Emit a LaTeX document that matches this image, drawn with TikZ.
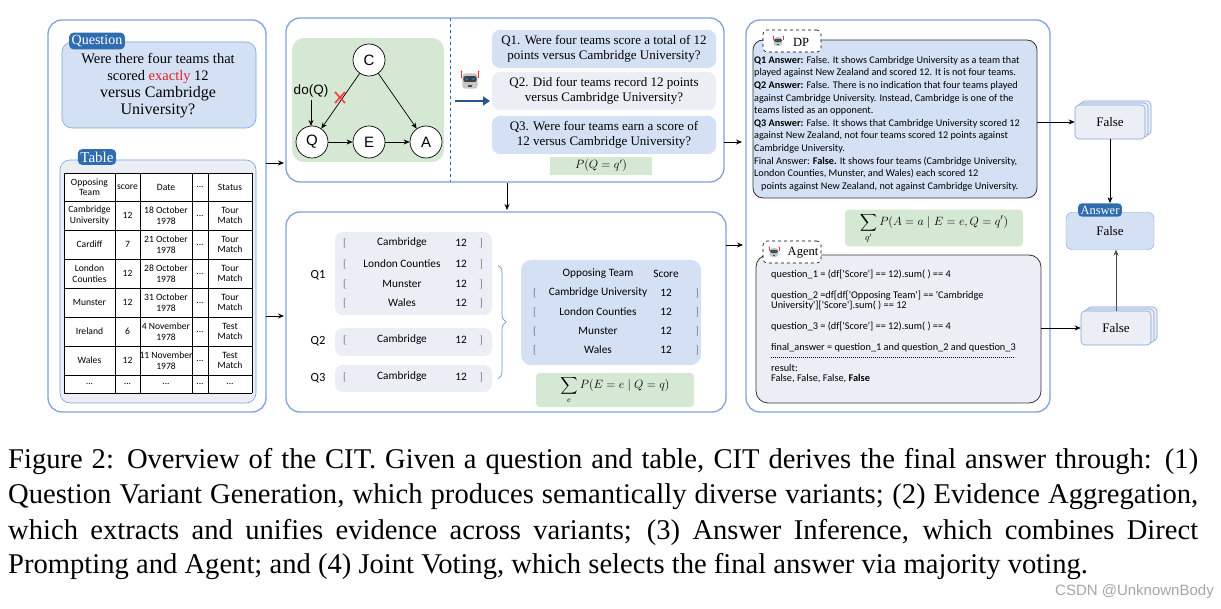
\documentclass[tikz,border=0pt]{standalone}
\usepackage{fontspec}
\usepackage{amsmath}
\setmainfont{Liberation Serif}
\newfontfamily\sans{Liberation Sans}
\newfontfamily\carl{Carlito}
\usetikzlibrary{arrows.meta,decorations.pathreplacing}
\definecolor{pborder}{HTML}{7FA2DB}
\definecolor{qfill}{HTML}{D4E1F4}
\definecolor{tabc}{HTML}{2F6CB0}
\definecolor{gfill}{HTML}{D5E8D4}
\definecolor{lgray}{HTML}{EBEEF4}
\definecolor{exred}{HTML}{E02020}
\tikzset{
 panel/.style={draw=pborder,line width=1.3pt,rounded corners=14pt},
 qbox/.style={draw=pborder,fill=qfill,rounded corners=10pt,line width=0.6pt},
 tab/.style={fill=tabc,rounded corners=4pt,text=white,font=\fontsize{14}{16}\selectfont,inner sep=2.5pt},
 vnode/.style={circle,draw,fill=white,minimum size=32pt,inner sep=0pt,font=\sans\fontsize{15}{16}\selectfont,line width=0.7pt},
 arr/.style={-{Stealth[length=6pt,width=5pt]},line width=0.7pt},
 cell/.style={font=\carl\fontsize{9.6}{10.5}\selectfont,align=center,inner sep=0pt},
 vbox/.style={rounded corners=8pt},
 vtext/.style={font=\fontsize{13}{15.5}\selectfont,align=center},
 ev/.style={font=\carl\fontsize{11.3}{12}\selectfont,inner sep=0pt},
 brk/.style={font=\fontsize{11}{12}\selectfont,text=gray,inner sep=0pt},
 tag/.style={draw,dashed,fill=white,rounded corners=4pt,line width=0.6pt},
 capl/.style={anchor=west,inner sep=0pt,font=\fontsize{28.6}{34}\selectfont},
}
\newcommand{\robot}[2]{%
 \begin{scope}[shift={(#1)},scale=#2]
  \draw[red!80,line width=0.8pt] (-9,-2)--(-9,-9) (9,-2)--(9,-9);
  \fill[red!80] (-9,-9) circle (1) (9,-9) circle (1);
  \fill[gray!45,rounded corners=3] (-8,-7) rectangle (8,9);
  \fill[black!75,rounded corners=2] (-7,-4) rectangle (7,2);
  \fill[cyan!70!blue] (-3.5,-1) circle (1.4) (3.5,-1) circle (1.4);
  \fill[black!70] (-2,5) rectangle (2,7);
 \end{scope}}
\newcommand{\fullline}[1]{\makebox[1190pt][s]{#1}}
\begin{document}
\begin{tikzpicture}[x=1pt,y=-1pt]
\useasboundingbox (0,0) rectangle (1221,609);
\fill[white] (0,0) rectangle (1221,609);
% ---------- left panel
\draw[panel] (48,20) rectangle (266,412);
\draw[qbox] (62,42) rectangle (256,128);
\node[tab] (qtag) at (97,41) {Question};
\node[font=\fontsize{14.5}{17}\selectfont,align=center] (qtext) at (158,86)
 {Were there four teams that\\ scored \textcolor{exred}{exactly} 12\\ {\fontsize{16}{18}\selectfont versus Cambridge}\\ {\fontsize{16}{18}\selectfont University?}};
\draw[draw=pborder,fill=lgray,rounded corners=10pt,line width=0.6pt] (60,160) rectangle (256,403);
\node[tab,font=\fontsize{15}{17}\selectfont] (ttag) at (97,157) {Table};
\fill[white] (64,173) rectangle (252,393);
\foreach \x in {64,115,140,192,208,252} \draw[line width=0.6pt] (\x,173)--(\x,393);
\foreach \y in {173,201,230,259,288,317,346,375,393} \draw[line width=0.6pt] (64,\y)--(252,\y);
\node[cell] (h1) at (89.5,187) {Opposing\\Team};
\node[cell] (h2) at (127.5,187) {score};
\node[cell] (h3) at (166,187) {Date};
\node[cell] (h4) at (200,187) {...};
\node[cell] (h5) at (230,187) {Status};
\foreach \n/\t/\s/\d [count=\i] in {
 {Cambridge\\University}/12/{18 October\\1978}/{Tour\\Match},
 Cardiff/7/{21 October\\1978}/{Tour\\Match},
 {London\\Counties}/12/{28 October\\1978}/{Tour\\Match},
 Munster/12/{31 October\\1978}/{Tour\\Match},
 Ireland/6/{4 November\\1978}/{Test\\Match},
 Wales/12/{11 November\\1978}/{Test\\Match}}{
 \pgfmathsetmacro\yy{215.5+29*(\i-1)}
 \node[cell] (r\i a) at (89.5,\yy) {\n};
 \node[cell] (r\i b) at (127.5,\yy) {\t};
 \node[cell] (r\i c) at (166,\yy) {\s};
 \node[cell] (r\i d) at (200,\yy) {...};
 \node[cell] (r\i e) at (230,\yy) {\d};
}
\foreach \x/\k in {89.5/a,127.5/b,166/c,200/d,230/e} \node[cell] (r7\k) at (\x,384) {...};
% ---------- middle top
\draw[panel] (286,18) rectangle (724,182);
\fill[gfill,rounded corners=12pt] (292,38) rectangle (444,162);
\node[vnode] (C) at (369,60) {C};
\node[vnode] (Q) at (312,142) {Q};
\node[vnode] (E) at (369,142) {E};
\node[vnode] (A) at (426,142) {A};
\draw[arr] (C)--(Q);
\draw[arr] (C)--(A);
\draw[arr] (Q)--(E);
\draw[arr] (E)--(A);
\node[font=\sans\fontsize{13.5}{14}\selectfont] (do) at (311,91) {do(Q)};
\coordinate (doe) at (311,126);
\draw[arr,line width=1pt] (311,100)--(doe);
\draw[line width=1.6pt,draw=red!70!pink] (335,92)--(345,103) (345,92)--(335,103);
\draw[dashed,draw=tabc,line width=0.8pt] (450,18)--(450,182);
\robot{470,80}{0.95}
\coordinate (ba) at (455,101);
\coordinate (bb) at (490,101);
\draw[-{Triangle[length=7pt,width=9pt]},draw=tabc!80!black,fill=tabc!80!black,line width=2.5pt] (ba)--(bb);
\node[vbox,fill=qfill,minimum width=224pt,minimum height=38pt,vtext] (q1) at (604,49) {Q1. Were four teams score a total of 12\\points versus Cambridge University?};
\node[vbox,fill=lgray,minimum width=224pt,minimum height=38pt,vtext] (q2) at (604,91) {Q2. Did four teams record 12 points\\versus Cambridge University?};
\node[vbox,fill=qfill,minimum width=224pt,minimum height=38pt,vtext] (q3) at (604,135) {Q3. Were four teams earn a score of\\12 versus Cambridge University?};
\node[fill=gfill,minimum width=102pt,minimum height=18pt,font=\fontsize{12}{12}\selectfont] (pq) at (601,166) {$P(Q=q')$};
% ---------- middle bottom
\draw[panel] (286,212) rectangle (726,412);
\draw[arr] (507,183)--(507,210);
\fill[lgray,rounded corners=8pt] (335,232) rectangle (492,315);
\fill[lgray,rounded corners=8pt] (335,328) rectangle (492,356);
\fill[lgray,rounded corners=8pt] (335,365) rectangle (492,392);
\node[ev,font=\carl\fontsize{12.5}{12}\selectfont] (l1) at (318,275) {Q1};
\node[ev,font=\carl\fontsize{12.5}{12}\selectfont] (l2) at (318,341) {Q2};
\node[ev,font=\carl\fontsize{12.5}{12}\selectfont] (l3) at (318,378) {Q3};
\foreach \t/\y [count=\i] in {Cambridge/243,London Counties/264,Munster/284,Wales/303,Cambridge/340,Cambridge/377}{
 \node[brk] (lb\i) at (345,\y) {[};
 \node[ev] (en\i) at (402,\y) {\t};
 \node[ev] (es\i) at (461,\y) {12};
 \node[brk] (rb\i) at (481,\y) {]};
}
\draw[decorate,decoration={brace,amplitude=8pt},draw=tabc!70,line width=0.7pt] (498,265)--(498,379);
\fill[qfill,rounded corners=10pt] (521,260) rectangle (701,365);
\node[ev] (mh1) at (598,274) {Opposing Team};
\node[ev] (mh2) at (666,274) {Score};
\foreach \t/\y [count=\i] in {Cambridge University/293,London Counties/312,Munster/331,Wales/350}{
 \node[brk] (mlb\i) at (535,\y) {[};
 \node[ev] (mn\i) at (598,\y) {\t};
 \node[ev] (ms\i) at (666,\y) {12};
 \node[brk] (mrb\i) at (697,\y) {]};
}
\node[fill=gfill,rounded corners=4pt,minimum width=158pt,minimum height=34pt,font=\fontsize{12}{12}\selectfont] (pe) at (615,390) {$\displaystyle\sum_e P(E=e\mid Q=q)$};
% ---------- right panel
\draw[panel] (746,20) rectangle (1050,412);
\coordinate (t1) at (724,142); \coordinate (t2) at (742,142);
\draw[arr] (t1)--(t2);
\coordinate (t3) at (726,245); \coordinate (t4) at (743,245);
\draw[arr] (t3)--(t4);
\draw[arr] (266,163)--(284,163);
\draw[arr] (266,316)--(284,316);
\draw[fill=qfill,rounded corners=10pt,line width=0.8pt,draw=black!80] (753,40) rectangle (1037,198);
\node[tag,minimum width=58pt,minimum height=22pt] (dp) at (792,41) {};
\robot{778,41}{0.55}
\node[font=\fontsize{12.5}{12}\selectfont,inner sep=0pt] (dpt) at (801,42) {DP};
\node[anchor=north west,font=\carl\fontsize{10.2}{12.6}\selectfont,align=left,inner sep=0pt] (dptext) at (754,56) {%
\textbf{Q1 Answer:} False. It shows Cambridge University as a team that\\
played against New Zealand and scored 12. It is not four teams.\\
\textbf{Q2 Answer:} False. There is no indication that four teams played\\
against Cambridge University. Instead, Cambridge is one of the\\
teams listed as an opponent.\\
\textbf{Q3 Answer:} False. It shows that Cambridge University scored 12\\
against New Zealand, not four teams scored 12 points against\\
Cambridge University.\\
Final Answer: \textbf{False.} It shows four teams (Cambridge University,\\
London Counties, Munster, and Wales) each scored 12\\
\hspace*{7pt}points against New Zealand, not against Cambridge University.};
\node[fill=gfill,rounded corners=4pt,minimum width=178pt,minimum height=34pt,font=\fontsize{12.5}{12}\selectfont] (pa) at (934,228) {$\displaystyle\sum_{q'} P(A=a\mid E=e,Q=q')$};
\draw[fill=lgray,rounded corners=12pt,line width=0.8pt,draw=black!80] (756,255) rectangle (1041,403);
\node[tag,minimum width=58pt,minimum height=22pt] (ag) at (792,252) {};
\robot{774,252}{0.55}
\node[font=\fontsize{12.5}{12}\selectfont,inner sep=0pt] (agt) at (803,253) {Agent};
\node[anchor=north west,font=\carl\fontsize{10.3}{10}\selectfont,align=left,inner sep=0pt] (agtext) at (771,270) {%
question\_1 = (df['Score'] == 12).sum( ) == 4\\[11pt]
question\_2 =df[df['Opposing Team'] == 'Cambridge\\
University']['Score'].sum( ) == 12\\[11pt]
question\_3 = (df['Score'] == 12).sum( ) == 4\\[11pt]
final\_answer = question\_1 and question\_2 and question\_3\\[11pt]
result:\\
False, False, False, \textbf{False}};
\draw[dash pattern=on 1.2pt off 0.8pt,line width=0.4pt] (771,357)--(1015,357);
% ---------- voting
\tikzset{fbox/.style={draw=pborder,fill=lgray,rounded corners=4pt,line width=0.6pt,minimum width=70pt,minimum height=34pt,font=\fontsize{13}{14}\selectfont}}
\node[fbox] (f1c) at (1116,118) {};
\node[fbox] (f1b) at (1113,120) {};
\node[fbox] (f1) at (1110,122) {False};
\node[fbox] (f2c) at (1122,324) {};
\node[fbox] (f2b) at (1119,326) {};
\node[fbox] (f2) at (1116,328) {False};
\node[draw=pborder,fill=qfill,rounded corners=6pt,minimum width=88pt,minimum height=37pt,font=\fontsize{13}{14}\selectfont] (ans) at (1110,231) {\raisebox{-2pt}{False}};
\node[tab,font=\fontsize{12.5}{13}\selectfont] (anstag) at (1100,210) {Answer};
\coordinate (dpe) at (1037,122);
\draw[arr] (dpe) -- (f1.west);
\coordinate (age) at (1041,328);
\draw[arr] (age)--(f2.west);
\draw[arr] (f1.south)--(anstag.north-|f1.south);
\draw[arr,draw=black!70] (f2.north)--(ans.south-|f2.north);
% ---------- caption
\node[capl] (c1) at (8,462) {\fullline{Figure 2: Overview of the CIT. Given a question and table, CIT derives the final answer through: (1)}};
\node[capl] (c2) at (8,497) {\fullline{Question Variant Generation, which produces semantically diverse variants; (2) Evidence Aggregation,}};
\node[capl] (c3) at (8,532) {\fullline{which extracts and unifies evidence across variants; (3) Answer Inference, which combines Direct}};
\node[capl] (c4) at (8,567) {Prompting and Agent; and (4) Joint Voting, which selects the final answer via majority voting.};
\node[anchor=east,font=\sans\fontsize{15}{16}\selectfont,text=gray!70,inner sep=0pt] (wm) at (1214,592) {CSDN @UnknownBody};
\end{tikzpicture}
\end{document}
